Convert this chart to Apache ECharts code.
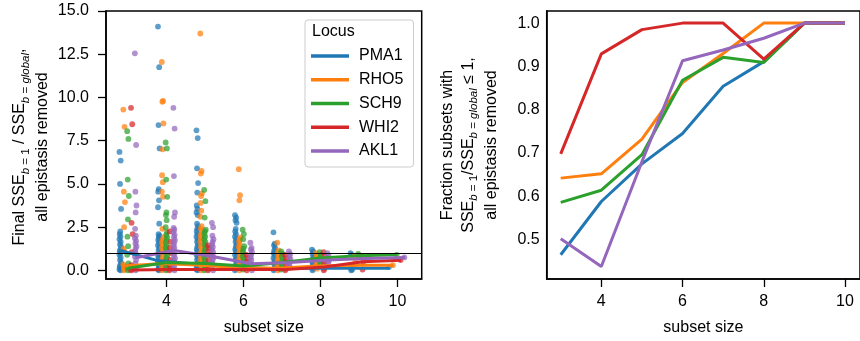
<!DOCTYPE html>
<html>
<head>
<meta charset="utf-8">
<script src="https://cdn.jsdelivr.net/npm/echarts@6/dist/echarts.min.js"></script>
<style>
  html, body { margin: 0; padding: 0; background: #fff; }
  #main { width: 860px; height: 341px; }
</style>
</head>
<body>
<div id="main"></div>
<script>
const loci = ['PMA1', 'RHO5', 'SCH9', 'WHI2', 'AKL1'];
const colors = ['#1f77b4', '#ff7f0e', '#2ca02c', '#d62728', '#9467bd'];
const sizes = [3, 4, 5, 6, 7, 8, 9, 10];

// strip points per locus, one list per subset size (3..10)
const pma1Pts = [
  [6.85, 6.35, 5.0, 3.55, 2.25, 2.1, 1.95, 1.8, 1.65, 1.5, 1.35, 1.2, 1.1, 1.0, 0.9, 0.75, 0.6, 0.45, 0.3, 0.2, 0.1, 0.05, 0.0],
  [14.1, 11.75, 8.4, 7.05, 4.7, 4.55, 4.05, 3.65, 2.7, 2.1, 2.0, 1.9, 1.75, 1.6, 1.45, 1.3, 1.15, 1.0, 0.9, 0.8, 0.65, 0.5, 0.4, 0.3, 0.2, 0.1, 0.05, 0.0],
  [8.1, 7.65, 5.9, 5.05, 4.5, 3.75, 3.55, 3.35, 3.2, 2.7, 2.55, 2.4, 2.25, 2.1, 1.95, 1.8, 1.65, 1.5, 1.35, 1.2, 1.05, 0.9, 0.75, 0.6, 0.45, 0.3, 0.2, 0.1, 0.05, 0.0],
  [3.2, 3.05, 2.9, 2.75, 2.4, 2.25, 2.1, 1.95, 1.8, 1.65, 1.5, 1.35, 1.2, 1.05, 0.9, 0.75, 0.6, 0.45, 0.3, 0.2, 0.1, 0.0],
  [2.2, 1.55, 1.45, 1.3, 1.15, 1.0, 0.85, 0.7, 0.55, 0.4, 0.25, 0.1, 0.0],
  [1.2, 1.1, 0.95, 0.8, 0.65, 0.5, 0.35, 0.2, 0.1, 0.0],
  [1.0, 0.9, 0.15, 0.05, 0.0],
  [0.2]
];
const rho5Pts = [
  [9.3, 8.3, 4.55, 3.95, 2.5, 1.25, 1.1, 0.35, 0.25, 0.15, 0.08, 0.0],
  [12.05, 9.8, 9.75, 8.5, 7.0, 5.5, 5.1, 4.55, 4.25, 2.4, 1.9, 1.75, 1.6, 1.45, 1.3, 1.15, 1.0, 0.85, 0.7, 0.55, 0.4, 0.25, 0.1, 0.0],
  [13.7, 5.75, 5.6, 4.45, 4.3, 3.9, 3.45, 3.1, 2.55, 2.4, 2.25, 2.1, 1.95, 1.8, 1.65, 1.5, 1.35, 1.2, 1.05, 0.9, 0.75, 0.6, 0.45, 0.3, 0.15, 0.0],
  [5.85, 4.35, 4.05, 1.9, 1.8, 1.65, 1.5, 1.35, 1.2, 1.05, 0.9, 0.75, 0.6, 0.45, 0.3, 0.15, 0.0],
  [1.6, 1.15, 1.0, 0.85, 0.7, 0.55, 0.4, 0.25, 0.1, 0.0],
  [1.0, 0.85, 0.7, 0.55, 0.4, 0.25, 0.1],
  [0.8, 0.5, 0.3],
  [0.3]
];
const sch9Pts = [
  [8.05, 7.6, 5.25, 4.3, 2.95, 1.95, 1.4, 0.9, 0.4, 0.2, 0.1, 0.0],
  [7.4, 7.05, 5.25, 4.25, 3.35, 3.2, 2.9, 2.5, 2.2, 2.05, 1.9, 1.75, 1.6, 1.45, 1.3, 1.15, 1.0, 0.85, 0.7, 0.55, 0.4, 0.25, 0.1, 0.0],
  [4.65, 4.0, 3.05, 2.35, 2.25, 2.1, 1.95, 1.8, 1.65, 1.5, 1.35, 1.2, 1.05, 0.9, 0.75, 0.6, 0.45, 0.3, 0.15, 0.0],
  [2.35, 2.1, 1.8, 1.4, 1.25, 1.1, 0.95, 0.8, 0.65, 0.5, 0.35, 0.2, 0.05],
  [1.1, 0.95, 0.8, 0.65, 0.5, 0.35, 0.2, 0.05],
  [1.05, 0.9, 0.75, 0.6, 0.45, 0.3],
  [0.95, 0.85, 0.75],
  [0.9]
];
const whi2Pts = [
  [9.4, 8.45, 2.75, 2.1, 1.05, 0.3, 0.05, 0.0],
  [2.25, 1.65, 1.3, 1.0, 0.6, 0.3, 0.1, 0.0],
  [1.45, 1.3, 1.1, 0.9, 0.6, 0.3, 0.1, 0.0],
  [0.9, 0.7, 0.5, 0.3, 0.15, 0.0],
  [0.9, 0.7, 0.5, 0.3, 0.1, 0.0],
  [1.05, 0.8, 0.5, 0.3, 0.1, 0.0],
  [0.8, 0.5, 0.05],
  [0.6]
];
const akl1Pts = [
  [12.55, 7.25, 4.55, 3.75, 3.35, 2.4, 2.0, 1.85, 1.7, 1.55, 1.4, 1.25, 1.1, 0.95, 0.8, 0.6, 0.4, 0.2, 0.0],
  [9.4, 8.2, 5.45, 3.35, 3.1, 2.45, 2.35, 2.2, 2.05, 1.9, 1.75, 1.6, 1.45, 1.3, 1.15, 1.0, 0.85, 0.7, 0.55, 0.4, 0.25, 0.1, 0.0],
  [2.75, 2.5, 2.0, 1.8, 1.65, 1.5, 1.35, 1.2, 1.05, 0.9, 0.75, 0.6, 0.45, 0.3, 0.15, 0.0],
  [1.6, 1.3, 1.2, 1.05, 0.9, 0.75, 0.6, 0.45, 0.3, 0.15, 0.0],
  [1.1, 0.95, 0.8, 0.65, 0.5, 0.35, 0.2],
  [1.0, 0.85, 0.7, 0.55, 0.4],
  [0.7],
  [0.75]
];

// mean ratio per size (left panel lines)
const pma1Mean = [1.15, 0.55, 0.35, 0.2, 0.1, 0.12, 0.12, 0.12];
const rho5Mean = [0.25, 0.4, 0.3, 0.15, 0.12, 0.25, 0.3, 0.3];
const sch9Mean = [0.12, 0.45, 0.4, 0.25, 0.45, 0.72, 0.85, 0.9];
const whi2Mean = [0.02, 0.05, 0.05, 0.05, 0.05, 0.2, 0.5, 0.58];
const akl1Mean = [0.73, 1.15, 0.8, 0.38, 0.45, 0.6, 0.68, 0.75];

// fraction of subsets with ratio <= 1 (right panel)
const pma1Frac = [0.465, 0.588, 0.675, 0.745, 0.854, 0.911, 1.0, 1.0];
const rho5Frac = [0.642, 0.652, 0.732, 0.863, 0.93, 1.0, 1.0, 1.0];
const sch9Frac = [0.586, 0.614, 0.696, 0.868, 0.921, 0.909, 1.0, 1.0];
const whi2Frac = [0.698, 0.929, 0.985, 1.0, 1.0, 0.917, 1.0, 1.0];
const akl1Frac = [0.502, 0.438, 0.68, 0.913, 0.938, 0.965, 1.0, 1.0];

const stripPts = [pma1Pts, rho5Pts, sch9Pts, whi2Pts, akl1Pts];
const means = [pma1Mean, rho5Mean, sch9Mean, whi2Mean, akl1Mean];
const fracs = [pma1Frac, rho5Frac, sch9Frac, whi2Frac, akl1Frac];

const dodge = [-0.2, -0.1, 0, 0.1, 0.2];
const jit = [-0.02, 0.012, -0.006, 0.022, 0.0, -0.014, 0.006];
const FONT = 'Liberation Sans, Arial, sans-serif';

const series = [];
loci.forEach((name, li) => {
  const pts = [];
  stripPts[li].forEach((vals, si) => {
    vals.forEach((v, j) => pts.push([sizes[si] + dodge[li] + jit[j % jit.length], v]));
  });
  series.push({
    name: name + ' points', type: 'scatter', xAxisIndex: 0, yAxisIndex: 0,
    data: pts, symbolSize: 5.8, silent: true,
    itemStyle: { color: colors[li], opacity: 0.72 }, z: 2
  });
});
loci.forEach((name, li) => {
  series.push({
    name: name, type: 'line', xAxisIndex: 0, yAxisIndex: 0,
    data: means[li].map((v, i) => [sizes[i] + dodge[li], v]),
    showSymbol: false, symbol: 'none',
    lineStyle: { color: colors[li], width: 3 }, itemStyle: { color: colors[li] }, z: 3
  });
});
loci.forEach((name, li) => {
  series.push({
    name: name, type: 'line', xAxisIndex: 1, yAxisIndex: 1,
    data: fracs[li].map((v, i) => [sizes[i], v]),
    showSymbol: false, symbol: 'none',
    lineStyle: { color: colors[li], width: 3 }, itemStyle: { color: colors[li] }, z: 3
  });
});
// reference line at ratio = 1
series.push({
  type: 'line', xAxisIndex: 0, yAxisIndex: 0, data: [], z: 4,
  markLine: {
    silent: true, symbol: 'none', label: { show: false },
    lineStyle: { color: '#000', width: 1, type: 'solid' },
    data: [{ yAxis: 1 }]
  }
});

const axisCommon = {
  type: 'value',
  axisLine: { show: true, onZero: false, lineStyle: { color: '#000', width: 1.5 } },
  splitLine: { show: false },
  axisLabel: { color: '#000', fontSize: 16, fontFamily: FONT },
  nameTextStyle: { color: '#000', fontSize: 16, fontFamily: FONT }
};

const mainRich = {
  t: { fontSize: 16, fontFamily: FONT, color: '#000', lineHeight: 23, verticalAlign: 'middle' },
  t1: { fontSize: 16, fontFamily: FONT, color: '#000', lineHeight: 18, verticalAlign: 'middle' },
  s: { fontSize: 11.5, fontFamily: FONT, color: '#000', lineHeight: 11, verticalAlign: 'bottom' },
  si: { fontSize: 11.5, fontFamily: FONT, fontStyle: 'italic', color: '#000', lineHeight: 11, verticalAlign: 'bottom' }
};

const option = {
  animation: false,
  backgroundColor: '#fff',
  grid: [
    { left: 106, top: 11, width: 315.7, height: 268, show: true, borderColor: '#000', borderWidth: 1.5, backgroundColor: 'transparent' },
    { left: 546.7, top: 11, width: 315.7, height: 268, show: true, borderColor: '#000', borderWidth: 1.5, backgroundColor: 'transparent' }
  ],
  xAxis: [
    Object.assign({}, axisCommon, {
      gridIndex: 0, min: 2.43, max: 10.63,
      name: 'subset size', nameLocation: 'middle', nameGap: 41,
      axisTick: { show: true, length: 8, customValues: [4, 6, 8, 10], lineStyle: { color: '#000', width: 1.3 } },
      axisLabel: Object.assign({}, axisCommon.axisLabel, { margin: 15, customValues: [4, 6, 8, 10] })
    }),
    Object.assign({}, axisCommon, {
      gridIndex: 1, min: 2.655, max: 10.37,
      name: 'subset size', nameLocation: 'middle', nameGap: 41,
      axisTick: { show: true, length: 8, customValues: [4, 6, 8, 10], lineStyle: { color: '#000', width: 1.3 } },
      axisLabel: Object.assign({}, axisCommon.axisLabel, { margin: 15, customValues: [4, 6, 8, 10] })
    })
  ],
  yAxis: [
    Object.assign({}, axisCommon, {
      gridIndex: 0, min: -0.5, max: 15,
      axisTick: { show: true, length: 8, customValues: [0, 2.5, 5, 7.5, 10, 12.5, 15], lineStyle: { color: '#000', width: 1.3 } },
      axisLabel: Object.assign({}, axisCommon.axisLabel, {
        margin: 17, customValues: [0, 2.5, 5, 7.5, 10, 12.5, 15], formatter: v => v.toFixed(1)
      })
    }),
    Object.assign({}, axisCommon, {
      gridIndex: 1, min: 0.409, max: 1.028,
      axisTick: { show: false, customValues: [0.5, 0.6, 0.7, 0.8, 0.9, 1.0] },
      axisLabel: Object.assign({}, axisCommon.axisLabel, {
        margin: 7, customValues: [0.5, 0.6, 0.7, 0.8, 0.9, 1.0], formatter: v => v.toFixed(1)
      })
    })
  ],
  legend: {
    data: loci.map((n, i) => ({ name: n, icon: 'rect', itemStyle: { color: colors[i] } })),
    orient: 'vertical', left: 305, top: 20,
    padding: [28, 10, 8, 6],
    itemWidth: 38, itemHeight: 3.5, itemGap: 7.75,
    backgroundColor: 'rgba(255,255,255,0.85)', borderColor: '#cccccc', borderWidth: 1, borderRadius: 3,
    textStyle: { fontSize: 16, color: '#000', fontFamily: FONT, lineHeight: 16, padding: [0, 0, 0, 5] },
    selectedMode: false
  },
  graphic: [
    {
      type: 'text', left: 312, top: 24, z: 100,
      style: { text: 'Locus', fill: '#000', font: '16px ' + FONT }
    },
    {
      type: 'text', x: 31.5, y: 147, rotation: Math.PI / 2, z: 100,
      style: {
        text: '{t|Final SSE}{si|b}{s| = 1}{t| / SSE}{si|b}{s| = }{si|global}{t|,}\n{t|all epistasis removed}',
        rich: mainRich, align: 'center', verticalAlign: 'middle', fill: '#000', font: '16px ' + FONT
      }
    },
    {
      type: 'text', x: 471, y: 145, rotation: Math.PI / 2, z: 100,
      style: {
        text: '{t1|Fraction subsets with}\n{t|SSE}{si|b}{s| = 1}{t|/SSE}{si|b}{s| = }{si|global}{t| ≤ 1,}\n{t|all epistasis removed}',
        rich: mainRich, align: 'center', verticalAlign: 'middle', fill: '#000', font: '16px ' + FONT
      }
    }
  ],
  series: series
};

const chart = echarts.init(document.getElementById('main'), null, { renderer: 'canvas' });
chart.setOption(option);
</script>
</body>
</html>
